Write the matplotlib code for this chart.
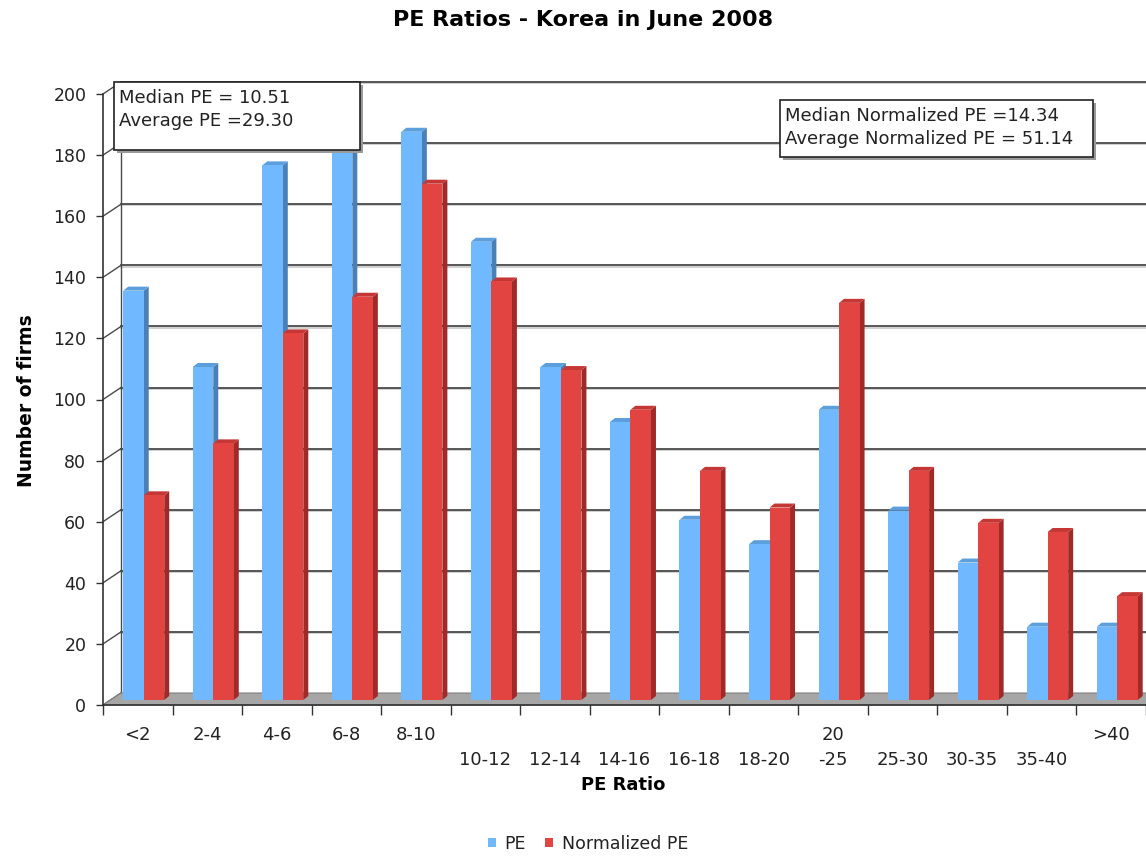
import matplotlib
matplotlib.use("Agg")
import matplotlib.pyplot as plt
from matplotlib.patches import Polygon, Rectangle, Patch
import numpy as np

categories = ["<2", "2-4", "4-6", "6-8", "8-10", "10-12", "12-14", "14-16",
              "16-18", "18-20", "20-25", "25-30", "30-35", "35-40", ">40"]
# how the labels sit on the axis (two staggered rows, "20-25" split)
tick_labels = ["<2", "2-4", "4-6", "6-8", "8-10", "\n10-12", "\n12-14", "\n14-16",
               "\n16-18", "\n18-20", "20\n-25", "\n25-30", "\n30-35", "\n35-40", ">40"]
pe = [134, 109, 175, 181, 186, 150, 109, 91, 59, 51, 95, 62, 45, 24, 24]
norm_pe = [67, 84, 120, 132, 169, 137, 108, 95, 75, 63, 130, 75, 58, 55, 34]
yticks = list(range(0, 201, 20))

W, H = 1146, 856
fig = plt.figure(figsize=(W / 100, H / 100), dpi=100)
ax_l, ax_b = 103 / W, (H - 705) / H
ax_w, ax_h = (W - 103) / W, (705 - 94) / H
ax = fig.add_axes([ax_l, ax_b, ax_w, ax_h])
n = len(categories)
ax.set_xlim(0, n)
ax.set_ylim(0, 200)

# pixels -> data units
px_x = ax_w * W / n
px_y = ax_h * H / 200
wall_dx, wall_dy = 18 / px_x, 12 / px_y
bar_dx, bar_dy = 7 / px_x, 5 / px_y
dep_dx, dep_dy = 5 / px_x, 4 / px_y

for s in ax.spines.values():
    s.set_visible(False)
ax.set_facecolor("none")

# floor
floor = Polygon([(0, 0), (n, 0), (n + wall_dx, wall_dy), (wall_dx, wall_dy)],
                closed=True, facecolor="#a6a6a6", edgecolor="#808080", lw=0.8,
                clip_on=False, zorder=1)
ax.add_patch(floor)

# back wall grid + left wall
for v in yticks:
    yb = v + wall_dy
    if v > 0:
        ax.plot([wall_dx, n + wall_dx], [yb - 1.2 / px_y] * 2, color="#c8c8c8", lw=1.2,
                clip_on=False, zorder=0.5)
        ax.plot([wall_dx, n + wall_dx], [yb, yb], color="#4a4a4a", lw=1.3,
                clip_on=False, zorder=0.6)
    ax.plot([0, wall_dx], [v, yb], color="#4a4a4a", lw=1.0, clip_on=False, zorder=0.6)
ax.plot([wall_dx, wall_dx], [wall_dy, 200 + wall_dy], color="#4a4a4a", lw=1.0,
        clip_on=False, zorder=0.6)
ax.plot([0, 0], [0, 200], color="#333333", lw=1.2, clip_on=False, zorder=3)
ax.plot([0, n], [0, 0], color="#333333", lw=1.2, clip_on=False, zorder=3)

# 3d-looking bars
bw = 0.295
series = [(pe, 0.19, "#70b8ff", "#4a80b8", "#5b9fdc"),
          (norm_pe, 0.485, "#e24441", "#a02a28", "#c53734")]
z = 2
for i in range(n):
    for vals, off, front, side, top in series:
        v = vals[i]
        x0 = i + off + bar_dx
        x1 = x0 + bw
        y0, y1 = bar_dy, v + bar_dy
        ax.add_patch(Polygon([(x1, y0), (x1 + dep_dx, y0 + dep_dy), (x1 + dep_dx, y1 + dep_dy), (x1, y1)],
                             closed=True, facecolor=side, edgecolor="none", zorder=z, clip_on=False))
        ax.add_patch(Polygon([(x0, y1), (x1, y1), (x1 + dep_dx, y1 + dep_dy), (x0 + dep_dx, y1 + dep_dy)],
                             closed=True, facecolor=top, edgecolor="none", zorder=z, clip_on=False))
        ax.add_patch(Rectangle((x0, y0), bw, v, facecolor=front, edgecolor="none",
                               zorder=z + 0.1, clip_on=False))
        z += 0.2

# ticks
ax.set_yticks(yticks)
ax.tick_params(axis="y", length=5, width=1, color="#333333", pad=7, labelsize=12.5,
               labelcolor="#222222")
ax.set_xticks(np.arange(n) + 0.5)
ax.set_xticklabels(tick_labels, fontsize=13, linespacing=1.5, va="top", color="#222222")
ax.set_xticks(np.arange(n + 1), minor=True)
ax.tick_params(axis="x", which="major", length=0, pad=15)
ax.tick_params(axis="x", which="minor", length=7, width=1, color="#333333", direction="out")

# text boxes
def note(x0, y0, x1, y1, txt):
    fx0, fx1 = x0 / W, x1 / W
    fy0, fy1 = 1 - y1 / H, 1 - y0 / H
    fig.add_artist(Rectangle((fx0 + 3 / W, fy0 - 3 / H), fx1 - fx0, fy1 - fy0,
                             transform=fig.transFigure, facecolor="#9a9a9a",
                             edgecolor="none", zorder=9))
    fig.add_artist(Rectangle((fx0, fy0), fx1 - fx0, fy1 - fy0, transform=fig.transFigure,
                             facecolor="white", edgecolor="#222222", lw=1.2, zorder=10))
    fig.text(fx0 + 5 / W, fy1 - 7 / H, txt, fontsize=13, va="top", ha="left",
             linespacing=1.38, zorder=11, color="#222222")

note(114, 82, 360, 150, "Median PE = 10.51\nAverage PE =29.30")
note(780, 100, 1093, 157, "Median Normalized PE =14.34\nAverage Normalized PE = 51.14")

fig.text(583 / W, 1 - 20 / H, "PE Ratios - Korea in June 2008", fontsize=16,
         fontweight="bold", ha="center", va="center")
fig.text(27 / W, 1 - 401 / H, "Number of firms", fontsize=13.5, fontweight="bold",
         rotation=90, ha="center", va="center")
fig.text(623 / W, 1 - 785 / H, "PE Ratio", fontsize=13, fontweight="bold",
         ha="center", va="center")

handles = [Patch(facecolor="#70b8ff", label="PE"),
           Patch(facecolor="#e24441", label="Normalized PE")]
fig.legend(handles=handles, loc="center", bbox_to_anchor=(588 / W, 1 - 844 / H),
           ncol=2, frameon=False, fontsize=12.5, handlelength=0.45, handleheight=0.45,
           handletextpad=0.5, columnspacing=1.1, labelcolor="#222222")

fig.savefig("out.png", dpi=100)
